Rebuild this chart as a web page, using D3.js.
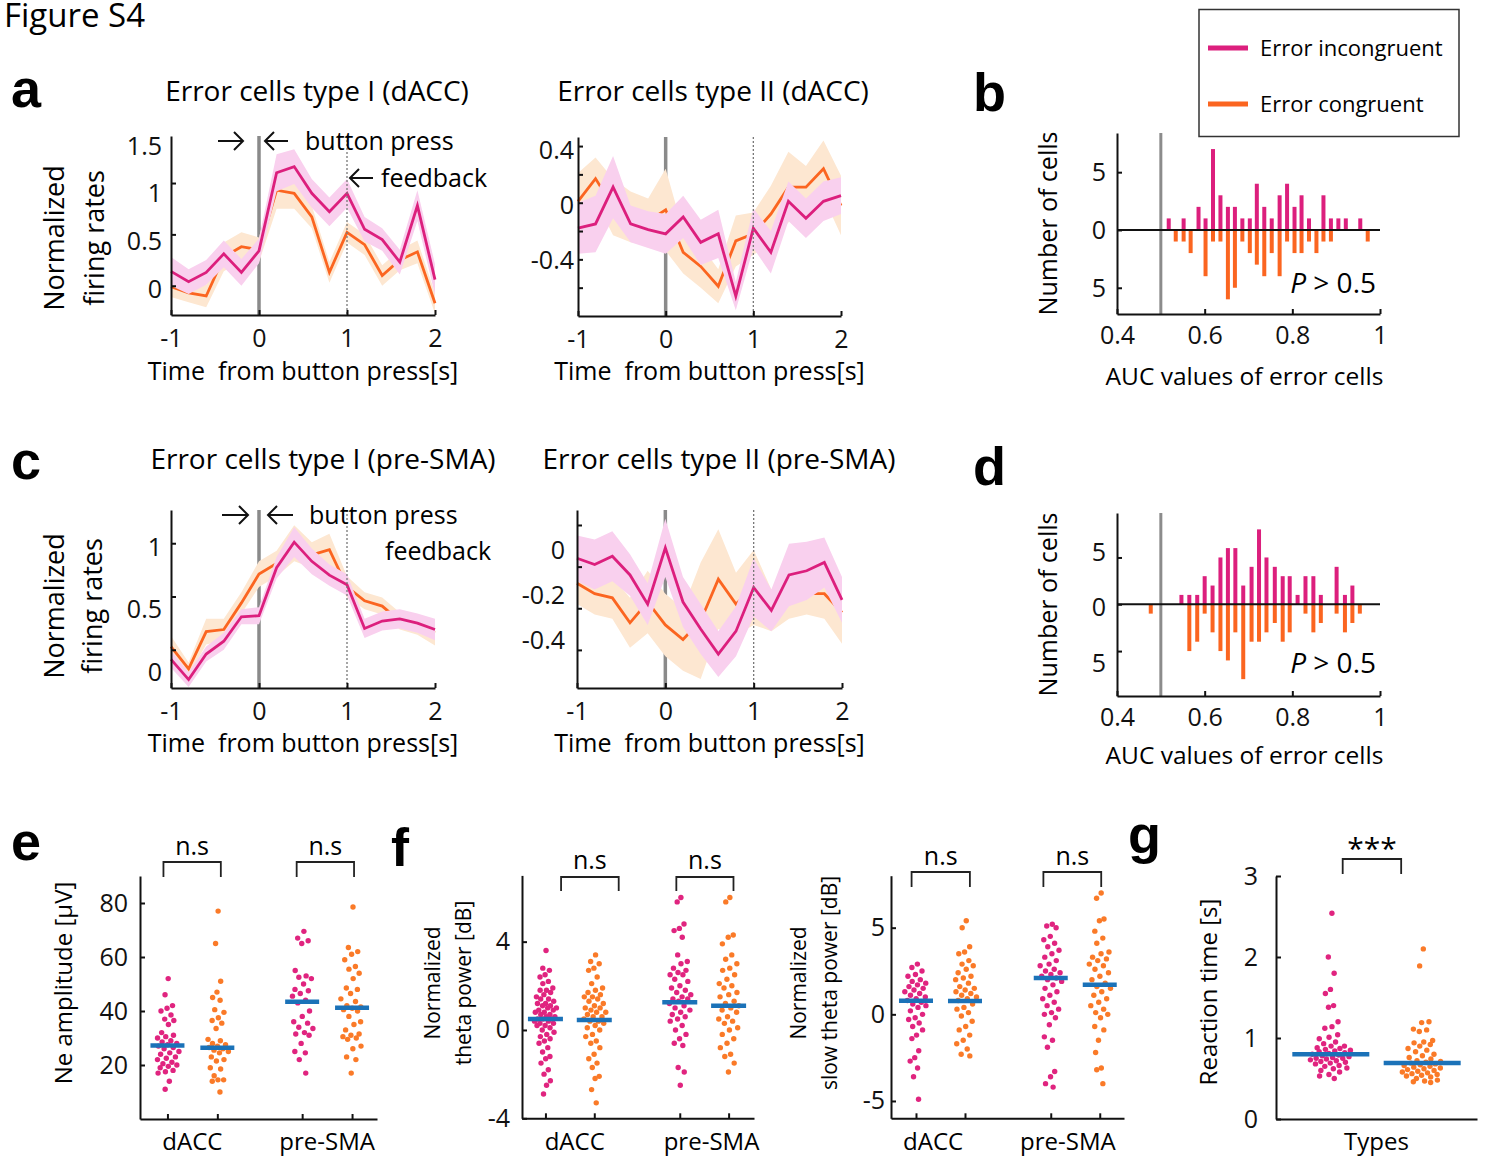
<!DOCTYPE html>
<html>
<head>
<meta charset="utf-8">
<script src="https://cdn.jsdelivr.net/npm/d3@7"></script>
<style>
  body { margin: 0; background: #fff; }
  svg { display: block; font-family: "Open Sans", "Noto Sans", sans-serif; }
</style>
</head>
<body>
<svg id="fig" width="1486" height="1157"></svg>
<script>
var PINK = "#dc1f7d", ORANGE = "#fb6520", PINK_BAND = "#f9d0ee", ORANGE_BAND = "#fde7d1";
var DOT_PINK = "#e0247f", DOT_ORANGE = "#fa7a28", BLUE = "#1b72b8";
var FONT = "'Open Sans', 'Noto Sans', sans-serif";

// ---------- firing-rate time courses (a, c) ----------
var timePts = [-1, -0.8, -0.6, -0.4, -0.2, 0, 0.2, 0.4, 0.6, 0.8, 1, 1.2, 1.4, 1.6, 1.8, 2];

var accI_inc    = [0.14, 0.04, 0.13, 0.31, 0.13, 0.34, 1.10, 1.16, 0.90, 0.72, 0.90, 0.55, 0.45, 0.23, 0.78, 0.06];
var accI_incSem = [0.14, 0.12, 0.12, 0.13, 0.13, 0.12, 0.18, 0.17, 0.14, 0.14, 0.14, 0.12, 0.11, 0.12, 0.15, 0.15];
var accI_con    = [-0.01, -0.07, -0.10, 0.28, 0.38, 0.35, 0.93, 0.90, 0.67, 0.13, 0.52, 0.40, 0.10, 0.25, 0.33, -0.17];
var accI_conSem = [0.10, 0.09, 0.11, 0.14, 0.14, 0.12, 0.18, 0.15, 0.11, 0.10, 0.10, 0.10, 0.10, 0.10, 0.11, 0.10];

var accII_inc    = [-0.18, -0.15, 0.11, -0.15, -0.19, -0.22, -0.10, -0.28, -0.22, -0.66, -0.18, -0.35, 0.01, -0.11, 0.01, 0.05];
var accII_incSem = [0.18, 0.20, 0.22, 0.13, 0.13, 0.14, 0.15, 0.16, 0.17, 0.10, 0.14, 0.15, 0.14, 0.14, 0.14, 0.13];
var accII_con    = [0.01, 0.17, -0.03, -0.10, -0.13, -0.05, -0.35, -0.45, -0.59, -0.27, -0.22, -0.08, 0.11, 0.11, 0.24, -0.02];
var accII_conSem = [0.20, 0.15, 0.20, 0.18, 0.16, 0.29, 0.15, 0.15, 0.12, 0.18, 0.15, 0.20, 0.25, 0.15, 0.20, 0.21];

var smaI_inc    = [-0.09, -0.28, -0.04, 0.08, 0.31, 0.32, 0.77, 1.01, 0.83, 0.70, 0.61, 0.20, 0.27, 0.29, 0.25, 0.19];
var smaI_incSem = [0.08, 0.07, 0.07, 0.08, 0.07, 0.08, 0.10, 0.14, 0.12, 0.10, 0.10, 0.09, 0.09, 0.09, 0.09, 0.10];
var smaI_con    = [0.03, -0.18, 0.17, 0.19, 0.44, 0.71, 0.81, 1.00, 0.89, 0.94, 0.59, 0.46, 0.41, 0.27, 0.22, 0.16];
var smaI_conSem = [0.10, 0.06, 0.12, 0.10, 0.10, 0.12, 0.12, 0.17, 0.12, 0.15, 0.10, 0.08, 0.08, 0.08, 0.08, 0.12];

var smaII_inc    = [0.04, 0.01, 0.05, -0.04, -0.18, 0.09, -0.17, -0.30, -0.42, -0.31, -0.10, -0.21, -0.04, -0.02, 0.02, -0.16];
var smaII_incSem = [0.11, 0.12, 0.12, 0.10, 0.10, 0.14, 0.12, 0.12, 0.11, 0.12, 0.14, 0.10, 0.15, 0.14, 0.12, 0.11];
var smaII_con    = [-0.08, -0.13, -0.15, -0.27, -0.17, -0.28, -0.35, -0.26, -0.06, -0.18, -0.10, -0.21, -0.15, -0.13, -0.13, -0.22];
var smaII_conSem = [0.10, 0.10, 0.10, 0.12, 0.15, 0.15, 0.15, 0.28, 0.24, 0.15, 0.18, 0.10, 0.10, 0.10, 0.12, 0.15];

// ---------- AUC histograms (b, d) ----------
var aucBinsB  = [0.518, 0.534, 0.552, 0.568, 0.586, 0.602, 0.619, 0.636, 0.653, 0.669, 0.686, 0.703, 0.719, 0.736,
                 0.753, 0.771, 0.788, 0.805, 0.821, 0.838, 0.855, 0.871, 0.888, 0.905, 0.922, 0.938, 0.955, 0.972];
var incCountB = [1, 0, 1, 0, 2, 1, 7, 3, 2, 2, 1, 1, 4, 2, 1, 3, 4, 2, 3, 1, 0, 3, 1, 1, 1, 0, 1, 0];
var conCountB = [0, 1, 1, 2, 0, 4, 1, 1, 6, 5, 1, 2, 3, 4, 2, 4, 1, 2, 2, 1, 2, 1, 1, 0, 0, 0, 0, 1];

var aucBinsD  = [0.477, 0.547, 0.565, 0.583, 0.600, 0.618, 0.636, 0.653, 0.670, 0.688, 0.707, 0.724, 0.741, 0.760,
                 0.778, 0.794, 0.812, 0.830, 0.848, 0.865, 0.901, 0.920, 0.937, 0.954];
var incCountD = [0, 1, 1, 1, 3, 2, 5, 6, 6, 2, 4, 8, 5, 4, 3, 3, 1, 3, 3, 1, 4, 1, 2, 0];
var conCountD = [1, 0, 5, 4, 1, 3, 5, 6, 3, 8, 4, 4, 3, 2, 4, 3, 0, 1, 3, 2, 1, 3, 2, 1];

// ---------- scatter panels (e, f, g) ----------
var regions = ["dACC", "pre-SMA"];

var neDaccInc = [52, 46, 42, 41, 40, 38.5, 37, 36.5, 35, 32, 31, 30.5, 30, 29, 28.5, 28, 27.5, 27, 26.5, 26, 25, 24.5, 24, 23,
                 22.5, 22, 21, 20.5, 20, 19.5, 19, 18, 17.5, 17, 14, 11];
var neDaccCon = [77, 65, 51, 47, 45, 44, 40.5, 39.5, 37.5, 36.5, 35.5, 33.5, 29.5, 29, 28, 27.5, 27, 26.5, 26, 25.5, 25, 24.5,
                 23, 22, 21.5, 19, 18.5, 16, 14.5, 14.5, 14, 10];
var neSmaInc  = [69.5, 67, 66, 65, 55, 53, 52.5, 52, 50, 48, 47.5, 46.5, 45.5, 44, 43, 40, 38, 36, 35.5, 34, 33.5, 32, 31.5, 31,
                 28, 25, 24.5, 22, 17];
var neSmaCon  = [78.5, 63.5, 62, 61, 59, 56.5, 55.5, 54, 52, 48.5, 48, 46.5, 44.5, 43.5, 42, 41.5, 41, 40.5, 40, 38, 36, 35, 33,
                 31.5, 31, 30.5, 30, 29.5, 27, 26, 23, 22, 17];
var neMedians = [27.2, 26.4, 43.4, 41.2];

var thDaccInc = [3.6, 2.8, 2.7, 2.5, 2.4, 2.2, 2.1, 1.9, 1.8, 1.8, 1.7, 1.6, 1.5, 1.4, 1.4, 1.3, 1.2, 1.2, 1.1, 1.1, 1.0, 1.0,
                 0.9, 0.9, 0.8, 0.8, 0.7, 0.7, 0.6, 0.6, 0.5, 0.5, 0.5, 0.4, 0.4, 0.3, 0.3, 0.2, 0.2, 0.1, 0.0, -0.1, -0.2,
                 -0.3, -0.4, -0.5, -0.6, -0.8, -1.0, -1.2, -1.3, -1.5, -1.8, -2.0, -2.3, -2.5, -2.9];
var thDaccCon = [3.4, 3.1, 3.0, 2.8, 2.7, 2.4, 2.1, 1.9, 1.8, 1.7, 1.6, 1.5, 1.5, 1.4, 1.3, 1.2, 1.1, 1.0, 1.0, 0.9, 0.8, 0.8,
                 0.7, 0.6, 0.6, 0.5, 0.4, 0.4, 0.3, 0.2, 0.1, 0.0, -0.2, -0.3, -0.5, -0.6, -0.8, -1.1, -1.3, -1.5, -1.7,
                 -2.1, -2.2, -2.7, -3.3];
var thSmaInc  = [6.0, 5.8, 4.8, 4.6, 4.5, 4.2, 3.4, 3.1, 3.0, 2.8, 2.7, 2.6, 2.5, 2.5, 2.3, 2.2, 2.0, 1.9, 1.8, 1.7, 1.6, 1.5,
                 1.4, 1.4, 1.3, 1.2, 1.1, 1.0, 0.9, 0.8, 0.7, 0.6, 0.5, 0.4, 0.2, 0.0, -0.2, -0.4, -0.6, -0.7, -1.7, -1.9, -2.5];
var thSmaCon  = [6.0, 5.8, 4.3, 4.2, 3.9, 3.4, 3.2, 3.0, 2.8, 2.7, 2.5, 2.3, 2.1, 2.0, 1.9, 1.7, 1.6, 1.5, 1.3, 1.2, 1.1, 1.0,
                 0.9, 0.8, 0.6, 0.5, 0.4, 0.3, 0.1, 0.0, -0.2, -0.4, -0.6, -0.8, -1.1, -1.2, -1.5, -1.9];
var thMedians = [0.5, 0.45, 1.25, 1.1];

var stDaccInc = [2.9, 2.7, 2.5, 2.3, 2.2, 2.0, 1.9, 1.8, 1.7, 1.6, 1.5, 1.4, 1.3, 1.2, 1.1, 1.0, 0.9, 0.8, 0.7, 0.6, 0.5, 0.4,
                 0.2, 0.0, -0.2, -0.3, -0.5, -0.7, -0.9, -1.2, -1.4, -2.1, -2.5, -2.7, -3.1, -3.6, -4.9];
var stDaccCon = [5.4, 5.0, 3.9, 3.6, 3.5, 3.1, 2.9, 2.8, 2.6, 2.4, 2.2, 2.1, 2.0, 1.8, 1.6, 1.5, 1.4, 1.3, 1.2, 1.1, 1.0, 0.9,
                 0.8, 0.6, 0.4, 0.3, 0.1, -0.1, -0.4, -0.7, -0.9, -1.2, -1.5, -1.7, -2.0, -2.3, -2.4];
var stSmaInc  = [5.2, 5.1, 5.0, 4.5, 4.3, 4.1, 3.9, 3.7, 3.5, 3.3, 3.1, 2.9, 2.8, 2.6, 2.5, 2.4, 2.3, 2.2, 2.1, 2.0, 1.9, 1.7,
                 1.5, 1.3, 1.1, 0.9, 0.7, 0.5, 0.3, 0.1, 0.0, -0.2, -0.6, -1.3, -1.5, -1.9, -3.3, -3.6, -4.0, -4.2];
var stSmaCon  = [7.0, 6.7, 5.5, 5.4, 4.8, 4.4, 4.1, 3.6, 3.5, 3.3, 3.2, 3.1, 2.9, 2.8, 2.6, 2.4, 2.2, 2.0, 1.8, 1.6, 1.5, 1.3,
                 1.1, 0.9, 0.7, 0.5, 0.3, 0.1, 0.0, -0.2, -0.7, -0.9, -1.5, -2.2, -3.1, -3.2, -4.0];
var stMedians = [0.79, 0.77, 2.1, 1.7];

var rtInc = [2.54, 2.0, 1.8, 1.6, 1.55, 1.4, 1.38, 1.2, 1.14, 1.12, 1.04, 1.01, 0.99, 0.95, 0.93, 0.9, 0.9, 0.88, 0.87, 0.86,
             0.85, 0.84, 0.83, 0.82, 0.81, 0.8, 0.79, 0.78, 0.77, 0.76, 0.75, 0.75, 0.74, 0.73, 0.72, 0.71, 0.7, 0.69, 0.68,
             0.66, 0.65, 0.63, 0.62, 0.6, 0.58, 0.55, 0.53, 0.5];
var rtCon = [2.1, 1.89, 1.2, 1.19, 1.11, 1.1, 1.08, 0.97, 0.95, 0.94, 0.92, 0.9, 0.87, 0.85, 0.83, 0.8, 0.78, 0.76, 0.74, 0.72,
             0.71, 0.7, 0.69, 0.68, 0.67, 0.66, 0.65, 0.64, 0.63, 0.62, 0.61, 0.6, 0.59, 0.58, 0.57, 0.56, 0.55, 0.54, 0.53,
             0.52, 0.5, 0.48, 0.47, 0.46, 0.45];
var rtMedians = [0.80, 0.69];

var svg = d3.select("#fig");

function styleAxis(sel, fs) {
    sel.attr("font-size", fs || 25).attr("font-family", FONT);
    sel.selectAll("path, line").attr("stroke", "#111").attr("stroke-width", 2);
    sel.selectAll("text").attr("fill", "#111");
    return sel;
}

function addText(x, y, str, size, anchor) {
    return svg.append("text")
        .attr("x", x).attr("y", y).attr("dy", "0.35em")
        .attr("font-size", size).attr("text-anchor", anchor || "middle")
        .style("white-space", "pre")
        .text(str);
}

function addVText(x, y, str, size) {
    return svg.append("text")
        .attr("transform", "translate(" + x + "," + y + ") rotate(-90)")
        .attr("dy", "0.35em").attr("font-size", size).attr("text-anchor", "middle")
        .text(str);
}

function panelLetter(x, y, str) {
    svg.append("text").attr("x", x).attr("y", y)
        .attr("font-family", "'Liberation Sans', Arial, sans-serif")
        .attr("font-weight", "bold").attr("font-size", 54)
        .text(str);
}

// arrow with open head, pointing at x2
function arrow(x1, x2, y) {
    var dir = x2 > x1 ? 1 : -1;
    svg.append("path")
        .attr("d", "M" + x1 + "," + y + "H" + x2 + "M" + (x2 - dir * 9) + "," + (y - 9) + "L" + x2 + "," + y + "L" + (x2 - dir * 9) + "," + (y + 9))
        .attr("fill", "none").attr("stroke", "#111").attr("stroke-width", 2);
}

function drawTimePanel(cfg) {
    var x = d3.scaleLinear().domain([-1, 2]).range([cfg.x0, cfg.x1]);
    var y = d3.scaleLinear().domain(cfg.yDom).range([cfg.y0, cfg.y1]);
    var yLab = d3.scaleLinear().domain(cfg.labDom).range(cfg.labRange);
    var g = svg.append("g");

    //button press marker (behind data)
    g.append("line")
        .attr("x1", x(0)).attr("x2", x(0)).attr("y1", cfg.y1).attr("y2", cfg.y0)
        .attr("stroke", "#8a8a8a").attr("stroke-width", 3.5);

    var series = [
        {m: cfg.con, s: cfg.conSem, band: ORANGE_BAND, line: ORANGE},
        {m: cfg.inc, s: cfg.incSem, band: PINK_BAND, line: PINK}
    ];
    series.forEach(function(sr) {
        var pts = timePts.map(function(t, i) { return {t: t, m: sr.m[i], s: sr.s[i]}; });
        g.append("path").datum(pts)
            .attr("d", d3.area()
                .x(function(d) { return x(d.t); })
                .y0(function(d) { return y(d.m - d.s); })
                .y1(function(d) { return y(d.m + d.s); }))
            .attr("fill", sr.band);
        g.append("path").datum(pts)
            .attr("d", d3.line()
                .x(function(d) { return x(d.t); })
                .y(function(d) { return y(d.m); }))
            .attr("fill", "none").attr("stroke", sr.line).attr("stroke-width", 2.8);
    });

    //feedback marker
    g.append("line")
        .attr("x1", x(1)).attr("x2", x(1)).attr("y1", cfg.y1).attr("y2", cfg.y0)
        .attr("stroke", "#777").attr("stroke-width", 1.3).attr("stroke-dasharray", "2,2");

    g.append("g").attr("transform", "translate(0," + cfg.y0 + ")")
        .call(d3.axisBottom(x).tickValues([-1, 0, 1, 2]).tickSizeInner(-5).tickSizeOuter(0).tickPadding(14)
            .tickFormat(function(d) { return String(d); }))
        .call(styleAxis);
    g.append("g").attr("transform", "translate(" + cfg.x0 + ",0)")
        .call(d3.axisLeft(y).tickValues(cfg.ticks).tickSizeInner(-5).tickSizeOuter(0).tickFormat(""))
        .call(styleAxis);
    var lab = g.append("g").attr("transform", "translate(" + cfg.x0 + ",0)")
        .call(d3.axisLeft(yLab).tickValues(cfg.labels).tickSize(0).tickPadding(cfg.labGap)
            .tickFormat(function(d) { return String(d); }))
        .call(styleAxis);
    lab.select(".domain").remove();

    addText(cfg.titleX, cfg.titleY, cfg.title, 28);
    addText((cfg.x0 + cfg.x1) / 2, cfg.xLabY, "Time  from button press[s]", 25);
    return x;
}

function drawHist(cfg) {
    var x = d3.scaleLinear().domain([0.4, 1]).range([cfg.x0, cfg.x1]);
    var y = d3.scaleLinear().domain(cfg.yDom).range([cfg.y0, cfg.y1]);
    var yLab = d3.scaleLinear().domain(cfg.labDom).range(cfg.labRange);
    var g = svg.append("g");
    var bw = 4;

    g.selectAll(".inc").data(cfg.inc).enter().append("rect")
        .attr("x", function(d, i) { return x(cfg.bins[i]) - bw / 2; })
        .attr("y", function(d) { return y(d); })
        .attr("width", bw)
        .attr("height", function(d) { return y(0) - y(d); })
        .attr("fill", PINK);
    g.selectAll(".con").data(cfg.con).enter().append("rect")
        .attr("x", function(d, i) { return x(cfg.bins[i]) - bw / 2; })
        .attr("y", y(0))
        .attr("width", bw)
        .attr("height", function(d) { return y(-d) - y(0); })
        .attr("fill", ORANGE);

    //chance level
    g.append("line").attr("x1", x(0.5)).attr("x2", x(0.5)).attr("y1", cfg.y1).attr("y2", cfg.y0)
        .attr("stroke", "#8c8c8c").attr("stroke-width", 3);
    g.append("line").attr("x1", cfg.x0).attr("x2", cfg.x1).attr("y1", y(0)).attr("y2", y(0))
        .attr("stroke", "#111").attr("stroke-width", 2);

    g.append("g").attr("transform", "translate(0," + cfg.y0 + ")")
        .call(d3.axisBottom(x).tickValues([0.4, 0.6, 0.8, 1]).tickSizeInner(-5).tickSizeOuter(0).tickPadding(12)
            .tickFormat(function(d) { return String(d); }))
        .call(styleAxis);
    g.append("g").attr("transform", "translate(" + cfg.x0 + ",0)")
        .call(d3.axisLeft(y).tickValues([-5, 0, 5]).tickSizeInner(-5).tickSizeOuter(0).tickFormat(""))
        .call(styleAxis);
    var lab = g.append("g").attr("transform", "translate(" + cfg.x0 + ",0)")
        .call(d3.axisLeft(yLab).tickValues([-5, 0, 5]).tickSize(0).tickPadding(11)
            .tickFormat(function(d) { return String(Math.abs(d)); }))
        .call(styleAxis);
    lab.select(".domain").remove();

    var p = svg.append("text").attr("x", cfg.x1 - 4).attr("y", cfg.pY).attr("dy", "0.35em")
        .attr("text-anchor", "end").attr("font-size", 28);
    p.append("tspan").attr("font-style", "italic").text("P");
    p.append("tspan").text(" > 0.5");

    addVText(1048, (cfg.y0 + cfg.y1) / 2, "Number of cells", 25);
    addText((cfg.x0 + cfg.x1) / 2 - 4, cfg.xLabY, "AUC values of error cells", 24.5);
}

// deterministic spread for overlapping dots, wider where values are dense
function spread(vals, halfW, bw) {
    var dens = vals.map(function(v) {
        return vals.filter(function(u) { return Math.abs(u - v) <= bw; }).length;
    });
    var maxD = d3.max(dens);
    return vals.map(function(v, i) {
        var f = ((i + 1) * 0.6180339887) % 1;
        return (f - 0.5) * 2 * halfW * Math.sqrt(dens[i] / maxD);
    });
}

function drawScatter(cfg) {
    var x = d3.scaleLinear().domain(cfg.xDom).range([cfg.x0, cfg.x1]);
    var y = d3.scaleLinear().domain(cfg.yDom).range([cfg.y0, cfg.y1]);
    var g = svg.append("g");

    cfg.groups.forEach(function(grp, k) {
        var off = spread(grp.values, cfg.halfW, cfg.bw);
        g.append("g").selectAll("circle").data(grp.values).enter().append("circle")
            .attr("cx", function(d, i) { return x(grp.pos) + off[i]; })
            .attr("cy", function(d) { return y(d); })
            .attr("r", 2.7)
            .attr("fill", grp.color);
    });
    cfg.groups.forEach(function(grp, k) {
        g.append("line")
            .attr("x1", x(grp.pos) - cfg.medW).attr("x2", x(grp.pos) + cfg.medW)
            .attr("y1", y(cfg.medians[k])).attr("y2", y(cfg.medians[k]))
            .attr("stroke", BLUE).attr("stroke-width", 4.5);
    });

    var xAxis = d3.axisBottom(x).tickSizeInner(cfg.xTicks ? -5 : 0).tickSizeOuter(0).tickFormat("")
        .tickValues(cfg.xTicks ? cfg.groups.map(function(gr) { return gr.pos; }) : []);
    g.append("g").attr("transform", "translate(0," + cfg.y0 + ")").call(xAxis).call(styleAxis);
    g.append("g").attr("transform", "translate(" + cfg.x0 + ",0)")
        .call(d3.axisLeft(y).tickValues(cfg.yTicks).tickSizeInner(-5).tickSizeOuter(0).tickPadding(cfg.labGap)
            .tickFormat(function(d) { return String(d); }))
        .call(styleAxis);

    //significance brackets
    cfg.brackets.forEach(function(b) {
        g.append("path")
            .attr("d", "M" + x(b.span[0]) + "," + cfg.brLeg + "V" + cfg.brTop + "H" + x(b.span[1]) + "V" + cfg.brLeg)
            .attr("fill", "none").attr("stroke", "#222").attr("stroke-width", 1.8);
        addText((x(b.span[0]) + x(b.span[1])) / 2, cfg.brTextY, b.label, b.size || 25);
    });

    cfg.catLabels.forEach(function(c) {
        addText(x(c.pos), 1142, c.text, 24);
    });
}

// ---------------- layout ----------------
svg.append("text").attr("x", 4).attr("y", 27).attr("font-size", 33).text("Figure S4");

panelLetter(11, 107, "a");
panelLetter(973, 111, "b");
panelLetter(11, 479, "c");
panelLetter(973, 485, "d");
panelLetter(11, 860, "e");
panelLetter(391, 866, "f");
panelLetter(1128, 853, "g");

var xa1 = drawTimePanel({
    x0: 171, x1: 435, y0: 315, y1: 136, yDom: [-0.285, 1.458],
    ticks: [0, 0.5, 1], labels: [0, 0.5, 1, 1.5], labDom: [0, 1.5], labRange: [289.5, 146], labGap: 9,
    inc: accI_inc, incSem: accI_incSem, con: accI_con, conSem: accI_conSem,
    title: "Error cells type I (dACC)", titleX: 317, titleY: 91, xLabY: 371
});
drawTimePanel({
    x0: 578, x1: 841, y0: 316, y1: 137, yDom: [-0.8, 0.464],
    ticks: [-0.6, -0.4, -0.2, 0, 0.2, 0.4], labels: [-0.4, 0, 0.4], labDom: [-0.4, 0.4], labRange: [260, 150], labGap: 4,
    inc: accII_inc, incSem: accII_incSem, con: accII_con, conSem: accII_conSem,
    title: "Error cells type II (dACC)", titleX: 713, titleY: 91, xLabY: 371
});
var xc1 = drawTimePanel({
    x0: 171, x1: 435, y0: 688, y1: 510, yDom: [-0.359, 1.312],
    ticks: [0, 0.5, 1], labels: [0, 0.5, 1], labDom: [0, 1], labRange: [672, 547], labGap: 9,
    inc: smaI_inc, incSem: smaI_incSem, con: smaI_con, conSem: smaI_conSem,
    title: "Error cells type I (pre-SMA)", titleX: 323, titleY: 459, xLabY: 743
});
drawTimePanel({
    x0: 577, x1: 842, y0: 688, y1: 510, yDom: [-0.583, 0.272],
    ticks: [-0.4, -0.2, 0, 0.2], labels: [-0.4, -0.2, 0], labDom: [-0.4, 0], labRange: [640, 550], labGap: 12,
    inc: smaII_inc, incSem: smaII_incSem, con: smaII_con, conSem: smaII_conSem,
    title: "Error cells type II (pre-SMA)", titleX: 719, titleY: 459, xLabY: 743
});

// annotations on the type I panels
arrow(xa1(0) - 41, xa1(0) - 16, 141);
arrow(xa1(0) + 29, xa1(0) + 6, 141);
addText(xa1(0) + 46, 141, "button press", 25, "start");
arrow(xa1(1) + 26, xa1(1) + 3, 178);
addText(xa1(1) + 34, 178, "feedback", 25, "start");

arrow(xc1(0) - 37, xc1(0) - 11, 515);
arrow(xc1(0) + 34, xc1(0) + 9, 515);
addText(xc1(0) + 50, 515, "button press", 25, "start");
addText(xc1(1) + 38, 551, "feedback", 25, "start");

[["Normalized", 55, 238], ["firing rates", 95, 238], ["Normalized", 55, 606], ["firing rates", 93, 606]]
    .forEach(function(t) { addVText(t[1], t[2], t[0], 27); });

drawHist({
    x0: 1117, x1: 1380, y0: 314, y1: 133, yDom: [-7.27, 8.39],
    labDom: [-5, 5], labRange: [288, 172],
    bins: aucBinsB, inc: incCountB, con: conCountB, pY: 283, xLabY: 376
});
drawHist({
    x0: 1117, x1: 1380, y0: 696, y1: 513, yDom: [-9.8, 9.75],
    labDom: [-5, 5], labRange: [663, 552],
    bins: aucBinsD, inc: incCountD, con: conCountD, pY: 663, xLabY: 755
});

// legend
svg.append("rect").attr("x", 1199).attr("y", 9.5).attr("width", 260).attr("height", 127)
    .attr("fill", "#fff").attr("stroke", "#333").attr("stroke-width", 1.5);
[["Error incongruent", PINK, 48], ["Error congruent", ORANGE, 104]].forEach(function(l) {
    svg.append("line").attr("x1", 1208).attr("x2", 1248).attr("y1", l[2]).attr("y2", l[2])
        .attr("stroke", l[1]).attr("stroke-width", 5);
    addText(1260, l[2], l[0], 22, "start");
});

// e
drawScatter({
    x0: 140, x1: 377, y0: 1119, y1: 876, xDom: [0.45, 5.2], yDom: [0, 90],
    yTicks: [20, 40, 60, 80], labGap: 12, xTicks: true, halfW: 12, bw: 4, medW: 17,
    medians: neMedians,
    groups: [
        {pos: 1, color: DOT_PINK, values: neDaccInc},
        {pos: 2, color: DOT_ORANGE, values: neDaccCon},
        {pos: 3.7, color: DOT_PINK, values: neSmaInc},
        {pos: 4.7, color: DOT_ORANGE, values: neSmaCon}
    ],
    brackets: [{span: [0.92, 2.07], label: "n.s"}, {span: [3.59, 4.74], label: "n.s"}],
    brTop: 862, brLeg: 877, brTextY: 846,
    catLabels: [{pos: 1.5, text: regions[0]}, {pos: 4.2, text: regions[1]}]
});
addVText(64, 983, "Ne amplitude [\u03bcV]", 24);

// f (theta)
drawScatter({
    x0: 522, x1: 754, y0: 1118.3, y1: 875.4, xDom: [0.52, 5.27], yDom: [-4, 7],
    yTicks: [-4, 0, 4], labGap: 12, xTicks: true, halfW: 12, bw: 0.5, medW: 17.5,
    medians: thMedians,
    groups: [
        {pos: 1, color: DOT_PINK, values: thDaccInc},
        {pos: 2, color: DOT_ORANGE, values: thDaccCon},
        {pos: 3.75, color: DOT_PINK, values: thSmaInc},
        {pos: 4.75, color: DOT_ORANGE, values: thSmaCon}
    ],
    brackets: [{span: [1.32, 2.5], label: "n.s"}, {span: [3.68, 4.85], label: "n.s"}],
    brTop: 877, brLeg: 891, brTextY: 860,
    catLabels: [{pos: 1.6, text: regions[0]}, {pos: 4.4, text: regions[1]}]
});
addVText(433, 983, "Normalized", 21);
addVText(464, 983, "theta power [dB]", 21);

// f (slow theta)
drawScatter({
    x0: 891, x1: 1124, y0: 1118.3, y1: 875.7, xDom: [0.49, 5.245], yDom: [-6, 8],
    yTicks: [-5, 0, 5], labGap: 6, xTicks: true, halfW: 12, bw: 0.6, medW: 17,
    medians: stMedians,
    groups: [
        {pos: 1, color: DOT_PINK, values: stDaccInc},
        {pos: 2, color: DOT_ORANGE, values: stDaccCon},
        {pos: 3.75, color: DOT_PINK, values: stSmaInc},
        {pos: 4.75, color: DOT_ORANGE, values: stSmaCon}
    ],
    brackets: [{span: [0.91, 2.1], label: "n.s"}, {span: [3.6, 4.78], label: "n.s"}],
    brTop: 872, brLeg: 887, brTextY: 856,
    catLabels: [{pos: 1.35, text: regions[0]}, {pos: 4.1, text: regions[1]}]
});
addVText(799, 983, "Normalized", 21);
addVText(830, 983, "slow theta power [dB]", 21);

// g
drawScatter({
    x0: 1276, x1: 1477, y0: 1119, y1: 876, xDom: [0.4, 2.6], yDom: [0, 3],
    yTicks: [0, 1, 2, 3], labGap: 18, xTicks: false, halfW: 22, bw: 0.1, medW: 38.5,
    medians: rtMedians,
    groups: [
        {pos: 1, color: DOT_PINK, values: rtInc},
        {pos: 2, color: DOT_ORANGE, values: rtCon}
    ],
    brackets: [{span: [1.13, 1.77], label: "***", size: 30}],
    brTop: 859, brLeg: 874, brTextY: 848,
    catLabels: [{pos: 1.5, text: "Types"}]
});
addVText(1209, 992, "Reaction time [s]", 24);
</script>
</body>
</html>
